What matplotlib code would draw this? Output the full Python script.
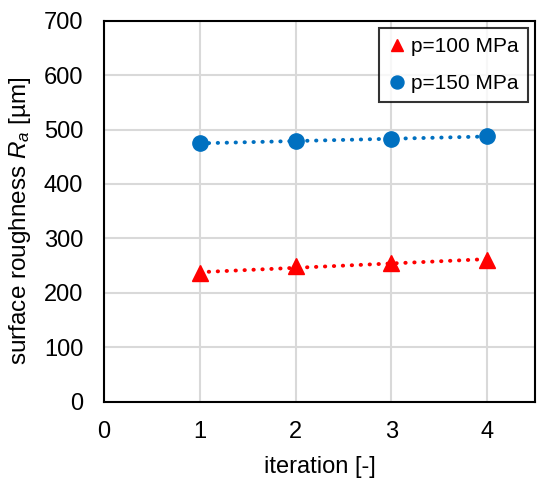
import matplotlib
matplotlib.use('Agg')
import matplotlib.pyplot as plt
import numpy as np

plt.rcParams['font.family'] = ['Liberation Sans', 'DejaVu Sans']
plt.rcParams['mathtext.fontset'] = 'custom'
plt.rcParams['mathtext.rm'] = 'Liberation Sans'
plt.rcParams['mathtext.it'] = 'Liberation Sans:italic'

# Daten
iterations = [1, 2, 3, 4]
ra_100 = [236, 249, 254, 261]
ra_150 = [475, 479, 482, 488]
labels = ['p=100 MPa', 'p=150 MPa']
colors = ['#FF0000', '#0070C0']
markers = ['^', 'o']

fig = plt.figure(figsize=(5.39, 4.78), dpi=100)
ax = fig.add_axes([0.193, 0.1596, 0.7996, 0.7971])

x = np.array(iterations)
for vals, lab, col, mk in zip([ra_100, ra_150], labels, colors, markers):
    # lineare Trendlinie (wie Excel)
    k, d = np.polyfit(x, vals, 1)
    ax.plot(x, k * x + d, color=col, linestyle=(0, (0.1, 2.2)),
            linewidth=2.8, dash_capstyle='round', zorder=3)
    ax.plot(x, vals, linestyle='none', marker=mk, color=col,
            markersize=11, label=lab, zorder=4)

ax.set_xlim(0, 4.5)
ax.set_ylim(0, 700)
ax.set_xticks([0, 1, 2, 3, 4])
ax.set_yticks(range(0, 701, 100))
ax.grid(True, color='#d9d9d9', linewidth=1.5)
ax.set_axisbelow(True)
ax.tick_params(length=0, labelsize=17)
ax.tick_params(axis='y', pad=15)
ax.tick_params(axis='x', pad=14)
for s in ax.spines.values():
    s.set_linewidth(1.5)
    s.set_color('black')

ax.set_xlabel('iteration [-]', fontsize=17, labelpad=9)
ax.set_ylabel('surface roughness $R_a$ [µm]', fontsize=17.5)
ax.yaxis.set_label_coords(-0.165, 0.475)

leg = ax.legend(loc='upper right', fontsize=15, frameon=True, fancybox=False,
                edgecolor='black', handlelength=0.8, handletextpad=0.25,
                borderaxespad=0.35, labelspacing=0.85, borderpad=0.45,
                markerscale=0.85)
leg.get_frame().set_linewidth(1.5)

plt.savefig('out.png', dpi=100)
